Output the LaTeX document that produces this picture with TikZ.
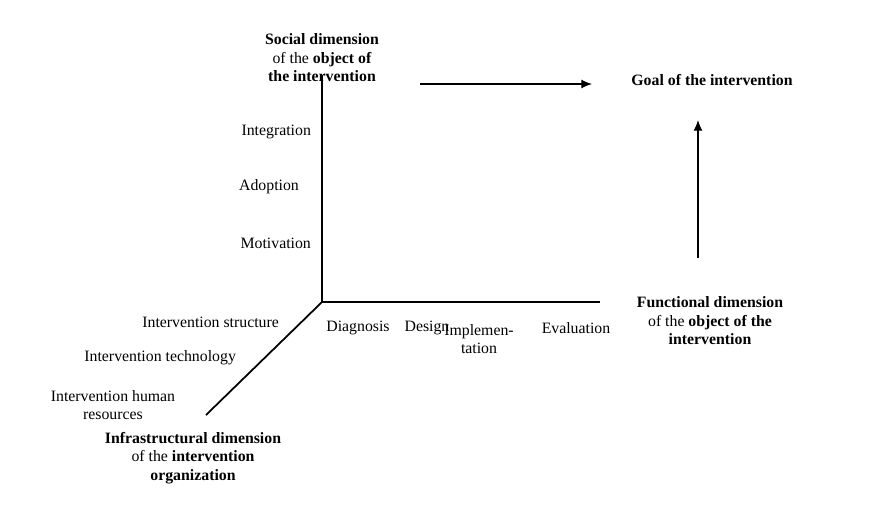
\documentclass[tikz,border=0pt]{standalone}
\usepackage{fontspec}
\setmainfont{Liberation Serif}
\usetikzlibrary{positioning,arrows.meta}

\begin{document}
\begin{tikzpicture}[x=0.02cm,y=-0.02cm,
        lbl/.style={font=\fontsize{9}{10.5}\selectfont,inner sep=1pt},
        dimlabel/.style={lbl,align=center},
        axisline/.style={line width=1pt},
        flow/.style={-{Latex[length=6pt,width=5pt]},line width=0.6pt}
    ]
    \useasboundingbox (0,0) rectangle (886,522);
    % axes
    \coordinate (origin) at (322,302);
    \coordinate (socialEnd) at (322,75);
    \coordinate (funcEnd) at (600,302);
    \coordinate (infraEnd) at (206,415);
    \draw[axisline] (socialEnd) -- (origin) -- (funcEnd);
    \draw[axisline] (origin) -- (infraEnd);
    % dimension labels
    \node[dimlabel] (social) at (322,58) {\textbf{Social dimension}\\of the \textbf{object of}\\\textbf{the intervention}};
    \node[dimlabel] (goal) at (712,80) {\textbf{Goal of the intervention}};
    \node[dimlabel] (functional) at (710,321) {\textbf{Functional dimension}\\of the \textbf{object of the}\\\textbf{intervention}};
    \node[dimlabel] (infra) at (193,458) {\textbf{Infrastructural dimension}\\of the \textbf{intervention}\\\textbf{organization}};
    % arrows
    \coordinate (rightStart) at (420,84);
    \coordinate (rightEnd) at (592,84);
    \coordinate (upStart) at (698,258);
    \coordinate (upEnd) at (698,120);
    \draw[flow] (rightStart) -- (rightEnd);
    \draw[flow] (upStart) -- (upEnd);
    % social levels
    \node[lbl,anchor=east] (integ) at (313,132) {Integration};
    \node[lbl,anchor=east] (adopt) at (301,187) {Adoption};
    \node[lbl,anchor=east] (motiv) at (313,243) {Motivation};
    % functional phases
    \node[lbl] (diag) at (358,328) {Diagnosis};
    \node[lbl] (design) at (427,328) {Design};
    \node[lbl,align=center] (impl) at (479,339) {Implemen-\\tation};
    \node[lbl] (eval) at (576,328) {Evaluation};
    % infrastructure items
    \node[lbl,anchor=east] (istruct) at (281,322) {Intervention structure};
    \node[lbl,anchor=east] (itech) at (238,358) {Intervention technology};
    \node[lbl,align=center] (ihuman) at (113,405) {Intervention human\\resources};
\end{tikzpicture}
\end{document}
